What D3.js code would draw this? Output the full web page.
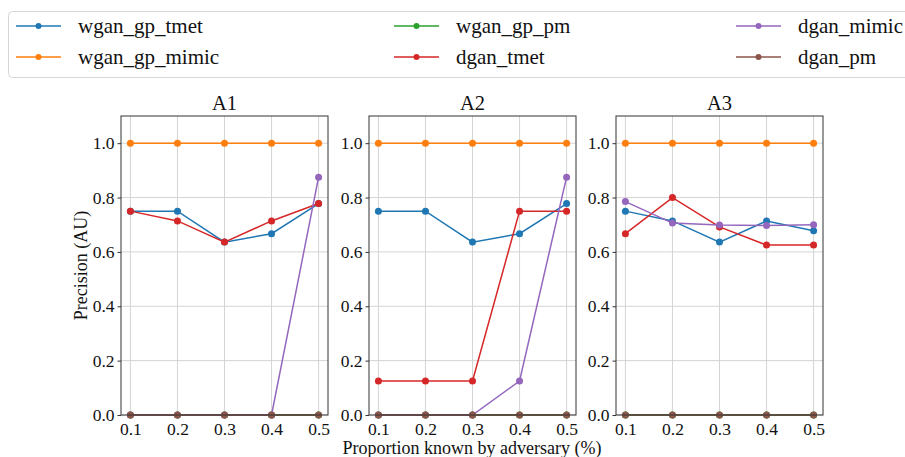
<!DOCTYPE html>
<html>
<head>
<meta charset="utf-8">
<script src="https://cdn.jsdelivr.net/npm/d3@7"></script>
<style>
  body { margin: 0; background: #fff; }
  svg text { font-family: "Liberation Serif", "Times New Roman", serif; fill: #111; }
</style>
</head>
<body>
<div id="chart"></div>
<script>
// x values shared by every panel
const proportions = [0.1, 0.2, 0.3, 0.4, 0.5];
const panelTitles = ["A1", "A2", "A3"];
const seriesNames = ["wgan_gp_tmet", "wgan_gp_mimic", "wgan_gp_pm", "dgan_tmet", "dgan_mimic", "dgan_pm"];
const seriesColors = ["#1f77b4", "#ff7f0e", "#2ca02c", "#d62728", "#9467bd", "#8c564b"];
const yTicks = [0.0, 0.2, 0.4, 0.6, 0.8, 1.0];

// one array per panel, in series order
const a1Values = [
  [0.75, 0.75, 0.636, 0.667, 0.778],
  [1, 1, 1, 1, 1],
  [0, 0, 0, 0, 0],
  [0.75, 0.714, 0.636, 0.714, 0.778],
  [0, 0, 0, 0, 0.875],
  [0, 0, 0, 0, 0]
];
const a2Values = [
  [0.75, 0.75, 0.636, 0.667, 0.778],
  [1, 1, 1, 1, 1],
  [0, 0, 0, 0, 0],
  [0.125, 0.125, 0.125, 0.75, 0.75],
  [0, 0, 0, 0.125, 0.875],
  [0, 0, 0, 0, 0]
];
const a3Values = [
  [0.75, 0.714, 0.636, 0.714, 0.678],
  [1, 1, 1, 1, 1],
  [0, 0, 0, 0, 0],
  [0.667, 0.8, 0.692, 0.625, 0.625],
  [0.785, 0.706, 0.699, 0.697, 0.7],
  [0, 0, 0, 0, 0]
];
const panelValues = [a1Values, a2Values, a3Values];

const serif = "'Liberation Serif', 'Times New Roman', serif";
const width = 905, height = 457;
const svg = d3.select("#chart").append("svg")
  .attr("width", width)
  .attr("height", height);

// legend (runs off the right edge like the original)
const legend = svg.append("g");
legend.append("rect")
  .attr("x", 8.5).attr("y", 11.5)
  .attr("width", 920).attr("height", 66)
  .attr("rx", 4)
  .attr("fill", "#fff")
  .attr("stroke", "#d6d6d6");

const legendCols = [16, 394, 736];
const legendRows = [26, 57];
seriesNames.forEach((name, i) => {
  const col = Math.floor(i / 2), row = i % 2;
  const lx = legendCols[col], ly = legendRows[row];
  legend.append("line")
    .attr("x1", lx).attr("x2", lx + 45)
    .attr("y1", ly).attr("y2", ly)
    .attr("stroke", seriesColors[i])
    .attr("stroke-width", 1.5);
  legend.append("circle")
    .attr("cx", lx + 22.5).attr("cy", ly).attr("r", 3)
    .attr("fill", seriesColors[i]);
  legend.append("text")
    .attr("x", lx + 62).attr("y", ly + 7)
    .attr("font-size", 21)
    .style("font-family", serif)
    .text(name);
});

// panels
const panelLefts = [121, 369, 616];
const panelWidth = 207;
const plotTop = 116, plotBottom = 415;

const y = d3.scaleLinear().domain([0, 1.1]).range([plotBottom, plotTop]);

panelTitles.forEach((title, p) => {
  const left = panelLefts[p];
  const x = d3.scaleLinear().domain([0.08, 0.52]).range([left, left + panelWidth]);
  const g = svg.append("g");

  // grid
  g.selectAll(".vgrid").data(proportions).enter().append("line")
    .attr("x1", (d) => x(d)).attr("x2", (d) => x(d))
    .attr("y1", plotTop).attr("y2", plotBottom)
    .attr("stroke", "#cfcfcf").attr("stroke-width", 0.9);
  g.selectAll(".hgrid").data(yTicks).enter().append("line")
    .attr("x1", left).attr("x2", left + panelWidth)
    .attr("y1", (d) => y(d)).attr("y2", (d) => y(d))
    .attr("stroke", "#cfcfcf").attr("stroke-width", 0.9);

  // axes
  const xAxis = g.append("g")
    .attr("transform", `translate(0,${plotBottom})`)
    .call(d3.axisBottom(x).tickValues(proportions).tickFormat(d3.format(".1f")).tickSize(3.5).tickPadding(2));
  const yAxis = g.append("g")
    .attr("transform", `translate(${left},0)`)
    .call(d3.axisLeft(y).tickValues(yTicks).tickFormat(d3.format(".1f")).tickSize(3.5).tickPadding(3));
  [xAxis, yAxis].forEach((a) => {
    a.select(".domain").remove();
    a.selectAll("line").attr("stroke", "#333");
    a.selectAll("text").attr("font-size", 17.5).attr("fill", "#111")
      .style("font-family", serif);
  });
  xAxis.selectAll("text").attr("dy", "0.8em");

  // series
  const line = d3.line().x((d, i) => x(proportions[i])).y((d) => y(d));
  panelValues[p].forEach((vals, s) => {
    g.append("path")
      .datum(vals)
      .attr("d", line)
      .attr("fill", "none")
      .attr("stroke", seriesColors[s])
      .attr("stroke-width", 1.5);
    g.selectAll(".pt" + s).data(vals).enter().append("circle")
      .attr("cx", (d, i) => x(proportions[i]))
      .attr("cy", (d) => y(d))
      .attr("r", 3.5)
      .attr("fill", seriesColors[s]);
  });

  // frame
  g.append("rect")
    .attr("x", left).attr("y", plotTop)
    .attr("width", panelWidth).attr("height", plotBottom - plotTop)
    .attr("fill", "none")
    .attr("stroke", "#333").attr("stroke-width", 1);

  g.append("text")
    .attr("x", left + panelWidth / 2).attr("y", plotTop - 6)
    .attr("text-anchor", "middle")
    .attr("font-size", 20.5)
    .style("font-family", serif)
    .text(title);
});

svg.append("text")
  .attr("transform", `translate(87,${(plotTop + plotBottom) / 2}) rotate(-90)`)
  .attr("text-anchor", "middle")
  .attr("font-size", 18)
  .style("font-family", serif)
  .text("Precision (AU)");

svg.append("text")
  .attr("x", 472).attr("y", 454)
  .attr("text-anchor", "middle")
  .attr("font-size", 18)
  .style("font-family", serif)
  .text("Proportion known by adversary (%)");
</script>
</body>
</html>
